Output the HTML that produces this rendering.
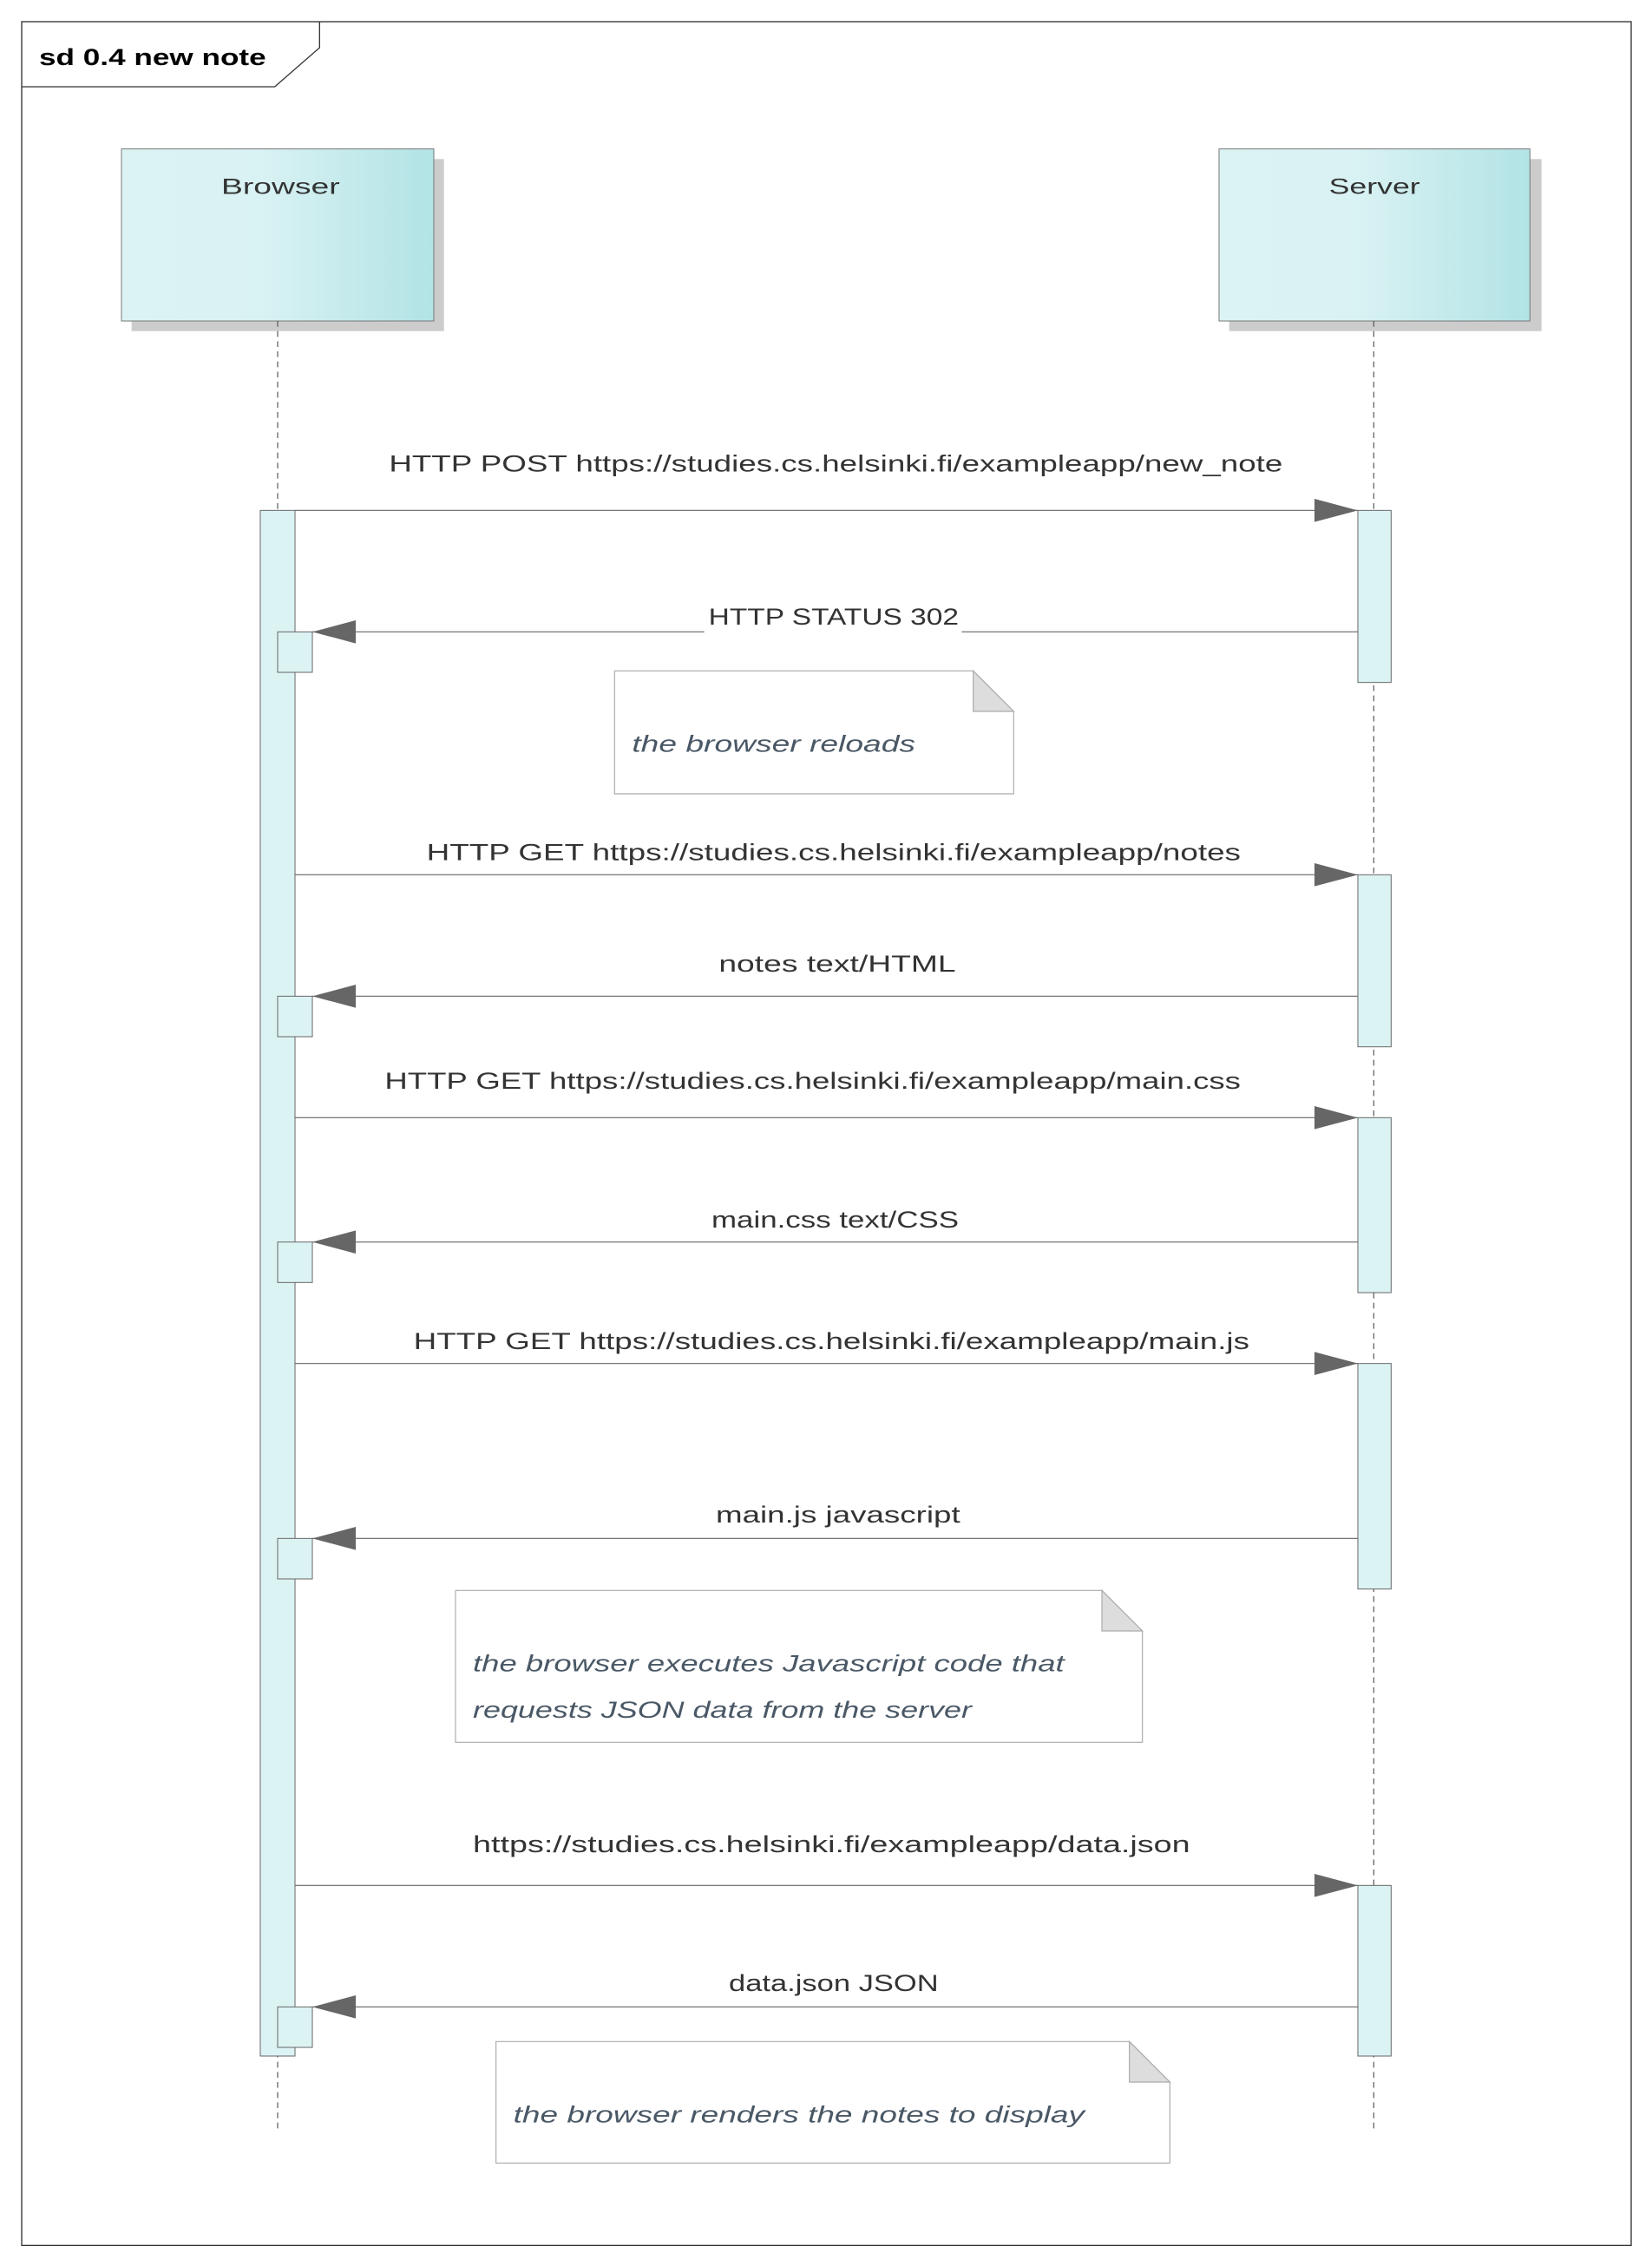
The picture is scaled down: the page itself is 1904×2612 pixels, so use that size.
<!DOCTYPE html>
<html><head><meta charset="utf-8"><style>html,body{margin:0;padding:0;background:#fff}svg{display:block}</style></head><body>
<svg xmlns="http://www.w3.org/2000/svg" width="1904" height="2612" viewBox="0 0 1142.4 1567.2" font-family="Liberation Sans, sans-serif">
<defs>
<linearGradient id="g" x1="0" x2="1" y1="0" y2="0"><stop offset="0" stop-color="#dcf3f4"/><stop offset="0.45" stop-color="#d9f2f3"/><stop offset="1" stop-color="#b2e3e5"/></linearGradient>
<marker id="ah" markerUnits="userSpaceOnUse" markerWidth="32" markerHeight="20" refX="30" refY="8" orient="auto"><path d="M0,0 L30,8 L0,16 z" fill="#666"/></marker>
</defs>
<rect width="1142.4" height="1567.2" fill="#fff"/>
<rect x="15" y="15" width="1113" height="1538" fill="none" stroke="#333" stroke-width="0.8"/>
<path d="M15,60 L190,60 L221,33 L221,15" fill="none" stroke="#333" stroke-width="0.8"/>
<text x="27" y="45" font-size="16" font-weight="bold" fill="#000" textLength="157" lengthAdjust="spacingAndGlyphs">sd 0.4 new note</text>
<rect x="91" y="110" width="216" height="119" fill="#ccc"/>
<rect x="84" y="103" width="216" height="119" fill="url(#g)" stroke="#777" stroke-width="0.6"/>
<text x="153" y="134" font-size="15" fill="#333" textLength="82" lengthAdjust="spacingAndGlyphs">Browser</text>
<rect x="850" y="110" width="216" height="119" fill="#ccc"/>
<rect x="843" y="103" width="215" height="119" fill="url(#g)" stroke="#777" stroke-width="0.6"/>
<text x="919" y="134" font-size="15" fill="#333" textLength="63" lengthAdjust="spacingAndGlyphs">Server</text>
<g stroke="#555" stroke-width="0.7" stroke-dasharray="4,3"><line x1="192" y1="222" x2="192" y2="1473"/><line x1="950" y1="222" x2="950" y2="1473"/></g>
<g fill="#dcf3f4" stroke="#666" stroke-width="0.6">
<rect x="180" y="353" width="24" height="1069"/>
<rect x="939" y="353" width="23" height="119"/>
<rect x="939" y="605" width="23" height="119"/>
<rect x="939" y="773" width="23" height="121"/>
<rect x="939" y="943" width="23" height="156"/>
<rect x="939" y="1304" width="23" height="118"/>
<rect x="192" y="437" width="24" height="28"/>
<rect x="192" y="689" width="24" height="28"/>
<rect x="192" y="859" width="24" height="28"/>
<rect x="192" y="1064" width="24" height="28"/>
<rect x="192" y="1388" width="24" height="28"/>
</g>
<g stroke="#666" stroke-width="0.7" marker-end="url(#ah)">
<line x1="204" y1="353" x2="939" y2="353"/>
<line x1="939" y1="437" x2="216" y2="437"/>
<line x1="204" y1="605" x2="939" y2="605"/>
<line x1="939" y1="689" x2="216" y2="689"/>
<line x1="204" y1="773" x2="939" y2="773"/>
<line x1="939" y1="859" x2="216" y2="859"/>
<line x1="204" y1="943" x2="939" y2="943"/>
<line x1="939" y1="1064" x2="216" y2="1064"/>
<line x1="204" y1="1304" x2="939" y2="1304"/>
<line x1="939" y1="1388" x2="216" y2="1388"/>
</g>
<rect x="487" y="415" width="178" height="24" fill="#fff"/>
<g font-size="16" fill="#333">
<text x="269" y="326" textLength="618" lengthAdjust="spacingAndGlyphs">HTTP POST https://studies.cs.helsinki.fi/exampleapp/new_note</text>
<text x="490" y="432" textLength="173" lengthAdjust="spacingAndGlyphs">HTTP STATUS 302</text>
<text x="295" y="595" textLength="563" lengthAdjust="spacingAndGlyphs">HTTP GET https://studies.cs.helsinki.fi/exampleapp/notes</text>
<text x="497" y="672" textLength="164" lengthAdjust="spacingAndGlyphs">notes text/HTML</text>
<text x="266" y="753" textLength="592" lengthAdjust="spacingAndGlyphs">HTTP GET https://studies.cs.helsinki.fi/exampleapp/main.css</text>
<text x="492" y="849" textLength="171" lengthAdjust="spacingAndGlyphs">main.css text/CSS</text>
<text x="286" y="933" textLength="578" lengthAdjust="spacingAndGlyphs">HTTP GET https://studies.cs.helsinki.fi/exampleapp/main.js</text>
<text x="495" y="1053" textLength="169" lengthAdjust="spacingAndGlyphs">main.js javascript</text>
<text x="327" y="1281" textLength="496" lengthAdjust="spacingAndGlyphs">https://studies.cs.helsinki.fi/exampleapp/data.json</text>
<text x="504" y="1377" textLength="145" lengthAdjust="spacingAndGlyphs">data.json JSON</text>
</g>
<g stroke="#aaa" stroke-width="0.7">
<path d="M425,464 L673,464 L701,492 L701,549 L425,549 z" fill="#fff"/>
<path d="M673,464 L673,492 L701,492 z" fill="#ddd"/>
<path d="M315,1100 L762,1100 L790,1128 L790,1205 L315,1205 z" fill="#fff"/>
<path d="M762,1100 L762,1128 L790,1128 z" fill="#ddd"/>
<path d="M343,1412 L781,1412 L809,1440 L809,1496 L343,1496 z" fill="#fff"/>
<path d="M781,1412 L781,1440 L809,1440 z" fill="#ddd"/>
</g>
<g font-size="16" font-style="italic" fill="#4a5866">
<text x="437" y="520" textLength="196" lengthAdjust="spacingAndGlyphs">the browser reloads</text>
<text x="327" y="1156" textLength="409" lengthAdjust="spacingAndGlyphs">the browser executes Javascript code that</text>
<text x="327" y="1188" textLength="345" lengthAdjust="spacingAndGlyphs">requests JSON data from the server</text>
<text x="355" y="1468" textLength="395" lengthAdjust="spacingAndGlyphs">the browser renders the notes to display</text>
</g>
</svg>
</body></html>
